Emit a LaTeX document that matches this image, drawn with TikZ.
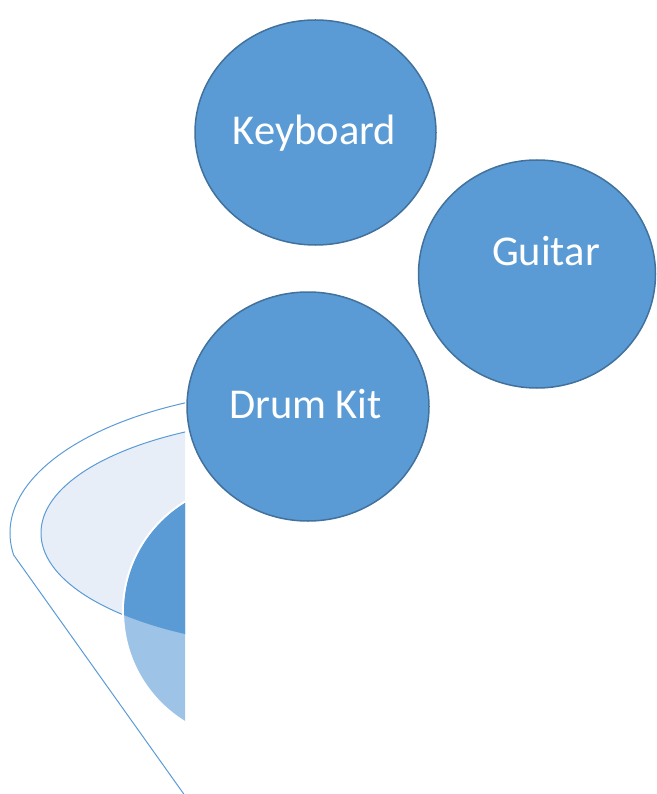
\documentclass[tikz,border=0pt]{standalone}
\usepackage{fontspec}
\setmainfont{Carlito}
\usetikzlibrary{shapes.geometric}
\definecolor{bluefill}{HTML}{5B9BD5}
\definecolor{blueedge}{HTML}{41719C}
\definecolor{palefill}{HTML}{E7EEF8}
\definecolor{lightfill}{HTML}{9DC3E6}
\tikzset{
  bubble/.style={ellipse, draw=blueedge, line width=1.5pt, fill=bluefill, inner sep=0pt},
  bubbletext/.style={text=white, font=\fontsize{42.5}{50}\selectfont, inner sep=0pt},
  funnelline/.style={draw=bluefill, line width=1pt}
}
\begin{document}
\begin{tikzpicture}[x=1pt,y=-1pt]
\useasboundingbox (0,0) rectangle (656,794);
\begin{scope}
  \clip (0,0) rectangle (185,794);
  % outer funnel outline
  \draw[funnelline] (320,533) ++(250:310 and 144.5)
    arc[start angle=250,end angle=171.24,x radius=310,y radius=144.5]
    coordinate (corner) -- (184.5,795);
  % inner ellipse
  \path[funnelline, fill=palefill] (320,533) ellipse[x radius=279,y radius=115.4];
  % ball
  \path[fill=lightfill, draw=white, line width=2.2pt] (252,612) circle[radius=129];
  \begin{scope}
    \clip (320,533) ellipse[x radius=279,y radius=115.4];
    \path[fill=bluefill] (252,612) circle[radius=128];
  \end{scope}
\end{scope}
\node[bubble, minimum width=241pt, minimum height=225pt] (kb) at (315.5,132.5) {};
\node[bubbletext] (kbt) at (314.5,133) {Keyboard};
\node[bubble, minimum width=237pt, minimum height=228pt] (gt) at (537,274) {};
\node[bubbletext] (gtt) at (546,251) {Guitar};
\node[bubble, minimum width=242pt, minimum height=229pt] (dk) at (308,406.5) {};
\node[bubbletext] (dkt) at (305.5,404) {Drum Kit};
\end{tikzpicture}
\end{document}
